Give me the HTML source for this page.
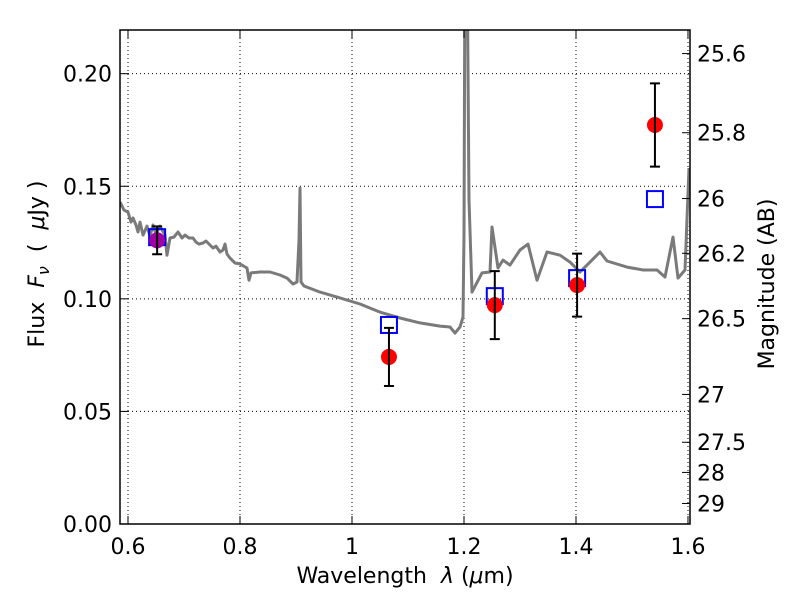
<!DOCTYPE html>
<html><head><meta charset="utf-8"><style>
body{margin:0;background:#fff;}
svg text{font-family:"DejaVu Sans","Liberation Sans",sans-serif;fill:#000;}
</style></head><body>
<svg id="chart" width="800" height="600" viewBox="0 0 800 600" xmlns="http://www.w3.org/2000/svg">
<rect x="0" y="0" width="800" height="600" fill="#fff"/>
<g id="grid"></g>
<g id="plot"></g>
<g id="axes"></g>
<text x="405" y="583" font-size="22" text-anchor="middle" xml:space="preserve">Wavelength  <tspan font-style="italic">λ</tspan> (<tspan font-style="italic">μ</tspan>m)</text>
<text transform="translate(44,264) rotate(-90)" font-size="22" text-anchor="middle" xml:space="preserve">Flux  <tspan font-style="italic">F</tspan><tspan font-style="italic" font-size="16" dy="5">ν</tspan><tspan dy="-5">  (  </tspan><tspan font-style="italic">μ</tspan>Jy )</text>
<text transform="translate(774,284) rotate(-90)" font-size="22" text-anchor="middle">Magnitude (AB)</text>
</svg>
<script>
const specWave=[0.5857,0.5929,0.600,0.6054,0.6089,0.6143,0.6179,0.6214,0.6268,0.6339,0.6393,0.6446,0.6500,0.6571,0.6661,0.6696,0.675,0.6821,0.6893,0.6964,0.7018,0.7089,0.7161,0.7214,0.7268,0.7339,0.7393,0.7464,0.7518,0.7571,0.7643,0.7696,0.7732,0.7768,0.7821,0.7911,0.8,0.8125,0.8161,0.8196,0.8357,0.8536,0.8714,0.8839,0.8946,0.9018,0.9054,0.9071,0.9089,0.9143,0.9429,0.9786,1.0143,1.05,1.0857,1.1214,1.1571,1.175,1.1839,1.1929,1.1982,1.2,1.2018,1.2054,1.2089,1.2143,1.2321,1.2464,1.25,1.2607,1.2696,1.2821,1.3,1.3143,1.3304,1.3482,1.3714,1.3893,1.4071,1.425,1.4429,1.4554,1.4911,1.52,1.5446,1.5589,1.5732,1.5821,1.5946,1.6018];
const specFlux=[0.1430,0.1394,0.1385,0.1341,0.1359,0.1328,0.1297,0.1341,0.1283,0.1323,0.1279,0.1328,0.1288,0.1323,0.1283,0.1194,0.1270,0.1274,0.1297,0.1270,0.1283,0.1270,0.1270,0.1252,0.1243,0.1248,0.1257,0.1239,0.1226,0.1234,0.1208,0.1217,0.1243,0.1199,0.1181,0.1159,0.1155,0.1137,0.1083,0.1115,0.1119,0.1119,0.1106,0.1092,0.1066,0.1075,0.1261,0.1492,0.1075,0.1057,0.1030,0.1004,0.0977,0.0941,0.0915,0.0893,0.0879,0.0875,0.0848,0.0875,0.0919,0.1283,0.26,0.26,0.1439,0.1030,0.1115,0.1119,0.1319,0.1137,0.1172,0.1150,0.1217,0.1243,0.1083,0.1208,0.1194,0.1163,0.1119,0.1163,0.1208,0.1168,0.1141,0.1128,0.1128,0.1097,0.1274,0.1092,0.1128,0.1581];
const obsWave=[0.652,1.066,1.255,1.402,1.541];
const obsFlux=[0.126,0.0742,0.0972,0.1061,0.1772];
const obsErr=[0.0062,0.0129,0.0151,0.014,0.0185];
const modelFlux=[0.1274,0.0884,0.1012,0.1092,0.1443];
const xTicks=[0.6,0.8,1.0,1.2,1.4,1.6];
const xTickLabels=["0.6","0.8","1","1.2","1.4","1.6"];
const yTicks=[0,0.05,0.10,0.15,0.20];
const yTickLabels=["0.00","0.05","0.10","0.15","0.20"];
const magTicks=[25.6,25.8,26,26.2,26.5,27,27.5,28,29];
const magTickLabels=["25.6","25.8","26","26.2","26.5","27","27.5","28","29"];

const L=120,R=690,T=30,B=524;
const X0=0.5857,X1=1.6036,Y0=0,Y1=0.2194;
const sx=v=>L+(v-X0)/(X1-X0)*(R-L);
const sy=v=>B-(v-Y0)/(Y1-Y0)*(B-T);
const magToFlux=m=>Math.pow(10,(23.9-m)/2.5);
const NS="http://www.w3.org/2000/svg";
function mk(tag,attrs,parent){const e=document.createElementNS(NS,tag);for(const k in attrs)e.setAttribute(k,attrs[k]);parent.appendChild(e);return e;}
const grid=document.getElementById('grid'),plot=document.getElementById('plot'),axes=document.getElementById('axes');

xTicks.forEach((v,i)=>{
  const g=mk('line',{x1:sx(v),x2:sx(v),y1:T,y2:B,stroke:'#000','stroke-width':1,'stroke-dasharray':'1,3'},grid);
  
  
  const t1=mk('line',{x1:sx(v),x2:sx(v),y1:B,y2:B-8,stroke:'#000','stroke-width':1},axes);
  
  
  const t2=mk('line',{x1:sx(v),x2:sx(v),y1:T,y2:T+8,stroke:'#000','stroke-width':1},axes);
  
  
  const tx=mk('text',{x:sx(v),y:B+30,'font-size':22,'text-anchor':'middle'},axes);
  tx.textContent=xTickLabels[i];
  
  
});
yTicks.forEach((v,i)=>{
  const g=mk('line',{x1:L,x2:R,y1:sy(v),y2:sy(v),stroke:'#000','stroke-width':1,'stroke-dasharray':'1,3'},grid);
  
  
  const t1=mk('line',{x1:L,x2:L+8,y1:sy(v),y2:sy(v),stroke:'#000','stroke-width':1},axes);
  
  
  const tx=mk('text',{x:L-8,y:sy(v)+8,'font-size':22,'text-anchor':'end'},axes);
  tx.textContent=yTickLabels[i];
  
  
});
magTicks.forEach((m,i)=>{
  const y=sy(magToFlux(m));
  const t1=mk('line',{x1:R,x2:R-8,y1:y,y2:y,stroke:'#000','stroke-width':1},axes);
  
  
  const tx=mk('text',{x:R+7,y:y+8,'font-size':22,'text-anchor':'start'},axes);
  tx.textContent=magTickLabels[i];
  
  
});

const clip=mk('clipPath',{id:'pc'},plot);
mk('rect',{x:L,y:T,width:R-L,height:B-T},clip);
const d=specWave.map((w,i)=>(i?'L':'M')+sx(w).toFixed(1)+','+sy(specFlux[i]).toFixed(1)).join('');
const sp=mk('path',{d:d,fill:'none',stroke:'#7a7a7a','stroke-width':3,'clip-path':'url(#pc)','stroke-linejoin':'round'},plot);



obsWave.forEach((w,i)=>{
  const x=sx(w);
  const sq=mk('rect',{x:x-8,y:sy(modelFlux[i])-8,width:16,height:16,fill:'none',stroke:'#0000ff','stroke-width':2},plot);
  
  
  const c=mk('circle',{cx:x,cy:sy(obsFlux[i]),r:8,fill:i===0?'#a000a0':'#ff0000'},plot);
  
  
  const yt=sy(obsFlux[i]+obsErr[i]),yb=sy(obsFlux[i]-obsErr[i]);
  const e=mk('path',{d:`M${x},${yt}L${x},${yb}M${x-5},${yt}L${x+5},${yt}M${x-5},${yb}L${x+5},${yb}`,stroke:'#000','stroke-width':2,fill:'none'},plot);
  
  
});
const frame=mk('rect',{x:L,y:T,width:R-L,height:B-T,fill:'none',stroke:'#000','stroke-width':1.5},axes);


</script>
</body></html>
